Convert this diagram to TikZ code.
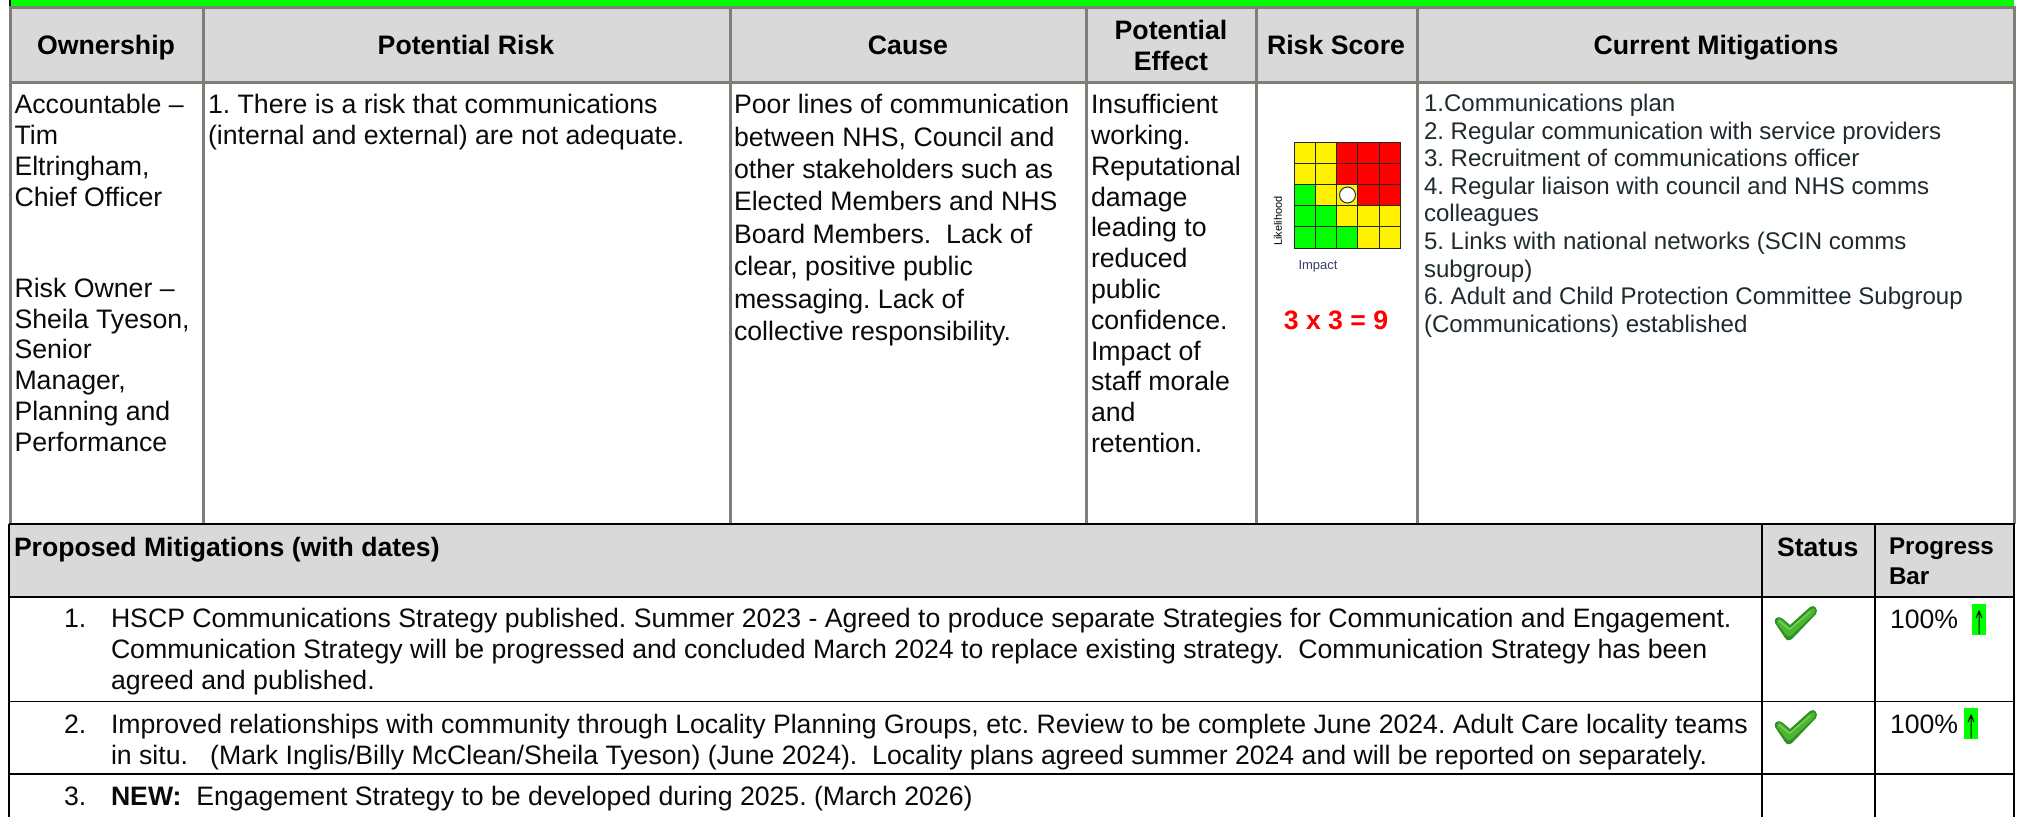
\documentclass[tikz,border=0pt]{standalone}
\usepackage{fontspec}
\setmainfont{Liberation Sans}
\frenchspacing
\definecolor{hdr}{HTML}{D9D9D9}
\definecolor{gridg}{HTML}{7F7F78}
\definecolor{topg}{HTML}{00FF00}
\definecolor{riskred}{HTML}{FF0000}
\definecolor{bodyblk}{HTML}{0A0A0A}
\definecolor{curtxt}{HTML}{1F2A2E}
\definecolor{tickdk}{HTML}{2E8F22}
\definecolor{tickmid}{HTML}{4CB632}
\definecolor{ticklt}{HTML}{78D255}
\definecolor{impcol}{HTML}{3A3F66}
\tikzset{
 txt/.style={inner sep=0pt,outer sep=0pt,anchor=north west,align=left,text=bodyblk,font=\fontsize{26.7}{30.8}\selectfont},
 causetxt/.style={txt,font=\fontsize{26.7}{32.4}\selectfont},
 curr/.style={txt,text=curtxt,font=\fontsize{24.05}{27.6}\selectfont},
 prop/.style={txt,font=\fontsize{26.65}{31.2}\selectfont},
 propbase/.style={prop,anchor=base west},
 headc/.style={inner sep=0pt,outer sep=0pt,anchor=base,font=\bfseries\fontsize{26.7}{30.5}\selectfont,text=black},
 head/.style={inner sep=0pt,outer sep=0pt,align=center,font=\bfseries\fontsize{26.7}{30.5}\selectfont,text=black},
 subhead/.style={inner sep=0pt,outer sep=0pt,anchor=base west,font=\bfseries\fontsize{26.6}{28}\selectfont,text=black},
 glines/.style={draw=gridg,line width=3pt},
 blines/.style={draw=black,line width=2pt},
 mat/.style={draw=black!85,line width=1pt},
 tick/.pic={
   \fill[tickdk] (-21,-3) .. controls (-23,-8) and (-17,-11) .. (-13,-7) -- (-6,-1) -- (14,-19) .. controls (18,-22) and (23,-17) .. (20,-12) -- (-3,12) .. controls (-6,15) and (-9,15) .. (-11,12) -- cycle;
   \fill[tickmid] (-19,-3) .. controls (-20,-7) and (-16,-9) .. (-13,-5) -- (-6,2) -- (15,-17) .. controls (18,-19) and (21,-16) .. (18,-12) -- (-4,9) .. controls (-6,11) and (-8,11) .. (-10,9) -- cycle;
   \draw[ticklt,line width=1.4pt,line cap=round] (-17,-5) -- (-7,3) (14,-14) -- (-6,3);
 }
}
\begin{document}
\begin{tikzpicture}[x=1pt,y=-1pt]
\useasboundingbox (0,0) rectangle (2019,817);
\fill[white] (0,0) rectangle (2019,817);
% top band
\fill[topg] (10,0) rectangle (2014,6);
\fill[black] (9,0) rectangle (11,6);
% header fill
\fill[hdr] (10,8) rectangle (2014,82);
\fill[hdr] (10,524) rectangle (2014,597);
% grid upper
\draw[glines] (9.5,7.2) -- (2014,7.2);
\draw[glines] (9.5,82) -- (2014,82);
\foreach \xx in {10,203,730,1086,1256,1417.5,2014}{\draw[glines] (\xx,6) -- (\xx,524);}
% grid lower
\draw[blines] (9,524) -- (2015,524);
\draw[blines,line width=1.6pt] (9,597) -- (2015,597);
\draw[blines,line width=1.6pt] (9,701.5) -- (2015,701.5);
\draw[blines,line width=1.6pt] (9,774) -- (2015,774);
\draw[blines] (9,524) -- (9,817);
\draw[blines,line width=1.6pt] (1762,524) -- (1762,817);
\draw[blines,line width=1.6pt] (1875,524) -- (1875,817);
\draw[blines] (2014,524) -- (2014,817);
% headers
\node[headc] (h1) at (106,54) {Ownership};
\node[headc] (h2) at (466,54) {Potential Risk};
\node[headc] (h3) at (908,54) {Cause};
\node[head] (h4) at (1171,45.5) {Potential\\Effect};
\node[headc] (h5) at (1336,54) {Risk Score};
\node[headc] (h6) at (1716,54) {Current Mitigations};
% body
\node[txt] (own) at (14.5,94.3) {Accountable –\\Tim\\Eltringham,\\Chief Officer\\[60.5pt]Risk Owner –\\Sheila Tyeson,\\Senior\\Manager,\\Planning and\\Performance};
\node[txt] (risk) at (208,94.3) {1. There is a risk that communications\\(internal and external) are not adequate.};
\node[causetxt] (cause) at (734,94.3) {Poor lines of communication\\between NHS, Council and\\other stakeholders such as\\Elected Members and NHS\\Board Members.\ \ Lack of\\clear, positive public\\messaging. Lack of\\collective responsibility.};
\node[txt] (effect) at (1091,94.3) {Insufficient\\working.\\Reputational\\damage\\leading to\\reduced\\public\\confidence.\\Impact of\\staff morale\\and\\retention.};
\node[curr] (cur) at (1424,94) {1.Communications plan\\2. Regular communication with service providers\\3. Recruitment of communications officer\\4. Regular liaison with council and NHS comms\\colleagues\\5. Links with national networks (SCIN comms\\subgroup)\\6. Adult and Child Protection Committee Subgroup\\(Communications) established};
% matrix
\fill[yellow] (1294,142) rectangle (1401,248);
\fill[red] (1337,142) rectangle (1401,206);
\fill[green] (1294,184) rectangle (1316,248);
\fill[green] (1316,206) rectangle (1337,248);
\fill[green] (1337,227) rectangle (1358,248);
\fill[yellow] (1337,184) rectangle (1358,206);
\foreach \i in {0,...,5}{
  \draw[mat] ({1294+\i*21.3},142) -- ({1294+\i*21.3},248);
  \draw[mat] (1294,{142+\i*21.2}) -- (1401,{142+\i*21.2});
}
\draw[black!80,line width=1pt,fill=white] (1347.5,195) circle (8);
\node[inner sep=0pt,rotate=90,font=\fontsize{11}{12}\selectfont] (lik) at (1278,221) {Likelihood};
\node[inner sep=0pt,text=impcol,font=\fontsize{13}{14}\selectfont] (imp) at (1318,266) {Impact};
\node[inner sep=0pt,text=riskred,font=\bfseries\fontsize{26.6}{28}\selectfont] (score) at (1336,320) {3 x 3 = 9};
% lower
\node[subhead] (pm) at (14,556) {Proposed Mitigations (with dates)};
\node[subhead] (st) at (1777,556) {Status};
\node[subhead,font=\bfseries\fontsize{24.2}{31}\selectfont] (pb) at (1889,554) {Progress};
\node[subhead,font=\bfseries\fontsize{24.2}{31}\selectfont] (pb2) at (1889,584) {Bar};
\node[propbase] (n1) at (64,627.7) {1.};
\node[prop] (m1) at (111,607.7) {HSCP Communications Strategy published. Summer 2023 - Agreed to produce separate Strategies for Communication and Engagement.\\Communication Strategy will be progressed and concluded March 2024 to replace existing strategy.\ \ Communication Strategy has been\\agreed and published.};
\node[propbase] (n2) at (64,733.8) {2.};
\node[prop] (m2) at (111,714.3) {Improved relationships with community through Locality Planning Groups, etc. Review to be complete June 2024. Adult Care locality teams\\in situ.\ \ \ (Mark Inglis/Billy McClean/Sheila Tyeson) (June 2024).\ \ Locality plans agreed summer 2024 and will be reported on separately.};
\node[propbase] (n3) at (64,805) {3.};
\node[propbase] (m3) at (111,805) {\textbf{NEW:}\ \ Engagement Strategy to be developed during 2025. (March 2026)};
% status
\pic at (1796,626) {tick};
\pic at (1796,730) {tick};
\node[propbase] (p1) at (1890,628) {100\%};
\node[propbase] (p2) at (1890,733) {100\%};
\fill[topg] (1972,604) rectangle (1986,635);
\fill[topg] (1964,708) rectangle (1978,739);
\draw[black,line width=1pt] (1979,634) -- (1979,612) (1976,618) -- (1979,611) -- (1982,618);
\draw[black,line width=1pt] (1971,738) -- (1971,716) (1968,722) -- (1971,715) -- (1974,722);
\end{tikzpicture}
\end{document}
